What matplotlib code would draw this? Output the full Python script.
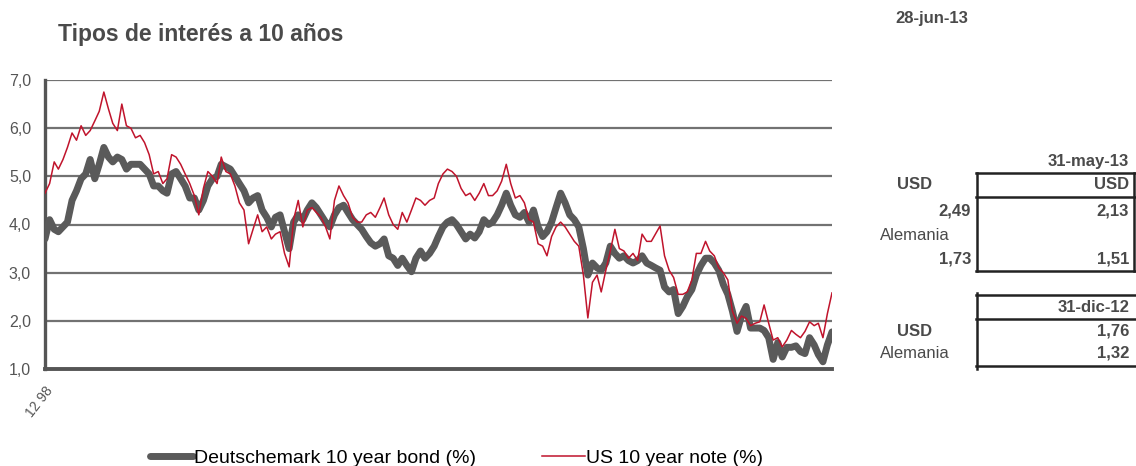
import numpy as np
import pandas as pd
import matplotlib
matplotlib.use("Agg")
import matplotlib.pyplot as plt
from matplotlib.lines import Line2D

plt.rcParams['font.family'] = ['Liberation Sans', 'DejaVu Sans']

# ---------- DATA (monthly, dic-98 .. jun-13) ----------
months = pd.date_range("1998-12-01", "2013-06-01", freq="MS")

us_10y = [
    4.65,
    4.85, 5.30, 5.15, 5.35, 5.60, 5.90, 5.75, 6.05, 5.85, 5.95, 6.15, 6.35,   # 1999
    6.75, 6.40, 6.10, 5.95, 6.50, 6.05, 6.00, 5.80, 5.85, 5.70, 5.45, 5.05,   # 2000
    5.10, 4.85, 4.95, 5.45, 5.40, 5.25, 5.05, 4.85, 4.60, 4.20, 4.75, 5.10,   # 2001
    5.00, 4.85, 5.40, 5.10, 5.05, 4.80, 4.45, 4.30, 3.60, 3.90, 4.20, 3.85,   # 2002
    3.95, 3.70, 3.80, 3.85, 3.40, 3.12, 4.10, 4.50, 3.95, 4.30, 4.35, 4.25,   # 2003
    4.15, 3.95, 3.70, 4.50, 4.80, 4.60, 4.45, 4.15, 4.05, 4.05, 4.20, 4.25,   # 2004
    4.15, 4.35, 4.55, 4.20, 4.00, 3.90, 4.25, 4.05, 4.30, 4.55, 4.50, 4.40,   # 2005
    4.50, 4.55, 4.85, 5.05, 5.15, 5.10, 5.00, 4.75, 4.60, 4.65, 4.50, 4.65,   # 2006
    4.85, 4.60, 4.60, 4.70, 4.90, 5.25, 4.85, 4.55, 4.60, 4.45, 4.10, 4.05,   # 2007
    3.60, 3.55, 3.35, 3.75, 3.95, 4.05, 3.95, 3.80, 3.65, 3.55, 2.95, 2.06,   # 2008
    2.80, 2.95, 2.60, 3.05, 3.45, 3.90, 3.50, 3.45, 3.30, 3.40, 3.25, 3.80,   # 2009
    3.65, 3.65, 3.80, 3.97, 3.35, 3.05, 2.90, 2.55, 2.55, 2.60, 2.85, 3.40,   # 2010
    3.40, 3.65, 3.45, 3.35, 3.10, 3.00, 2.85, 2.20, 1.95, 2.10, 2.05, 1.90,   # 2011
    1.95, 1.98, 2.33, 1.95, 1.60, 1.65, 1.46, 1.60, 1.80, 1.72, 1.65, 1.78,   # 2012
    1.98, 1.90, 1.95, 1.65, 2.15, 2.58,                                       # 2013
]

de_10y = [
    3.70,
    4.10, 3.90, 3.85, 3.95, 4.05, 4.50, 4.70, 4.95, 5.05, 5.35, 4.95, 5.25,   # 1999
    5.60, 5.40, 5.30, 5.40, 5.35, 5.15, 5.25, 5.25, 5.25, 5.15, 5.05, 4.80,   # 2000
    4.80, 4.70, 4.65, 5.05, 5.10, 4.95, 4.80, 4.55, 4.55, 4.30, 4.50, 4.80,   # 2001
    4.95, 5.00, 5.25, 5.20, 5.15, 5.00, 4.85, 4.70, 4.45, 4.55, 4.60, 4.30,   # 2002
    4.15, 3.95, 4.15, 4.20, 3.85, 3.50, 4.05, 4.20, 4.10, 4.30, 4.45, 4.35,   # 2003
    4.20, 4.05, 3.95, 4.20, 4.35, 4.40, 4.25, 4.10, 4.00, 3.90, 3.75, 3.62,   # 2004
    3.55, 3.60, 3.70, 3.35, 3.30, 3.15, 3.30, 3.15, 3.02, 3.30, 3.45, 3.30,   # 2005
    3.40, 3.55, 3.75, 3.95, 4.05, 4.10, 4.00, 3.85, 3.70, 3.80, 3.72, 3.85,   # 2006
    4.10, 4.00, 4.05, 4.20, 4.40, 4.65, 4.40, 4.20, 4.15, 4.25, 4.05, 4.30,   # 2007
    3.95, 3.75, 3.85, 4.05, 4.35, 4.65, 4.45, 4.20, 4.10, 3.95, 3.50, 2.95,   # 2008
    3.20, 3.10, 3.05, 3.20, 3.55, 3.40, 3.30, 3.35, 3.25, 3.20, 3.25, 3.35,   # 2009
    3.20, 3.15, 3.10, 3.05, 2.70, 2.60, 2.65, 2.15, 2.30, 2.50, 2.65, 2.95,   # 2010
    3.15, 3.30, 3.30, 3.20, 3.05, 2.75, 2.55, 2.20, 1.78, 2.10, 2.30, 1.85,   # 2011
    1.85, 1.85, 1.80, 1.65, 1.20, 1.55, 1.25, 1.45, 1.45, 1.48, 1.36, 1.32,   # 2012
    1.65, 1.50, 1.30, 1.15, 1.50, 1.77,                                       # 2013
]

y_ticks = [1, 2, 3, 4, 5, 6, 7]
y_ticklabels = ["1,0", "2,0", "3,0", "4,0", "5,0", "6,0", "7,0"]

# side table
date_top = "28-jun-13"
date_may = "31-may-13"
date_dec = "31-dic-12"
rows = ["USD", "Alemania"]
now_vals = ["2,49", "1,73"]
may_vals = ["2,13", "1,51"]
dec_vals = ["1,76", "1,32"]

GRAY = "#5a5a5a"
RED = "#c0142c"
TXT = "#4a4a4a"

W, H = 1136, 466


def fx(px):
    return px / W


def fy(py):
    return 1 - py / H


fig = plt.figure(figsize=(W / 100, H / 100), dpi=100)
ax = fig.add_axes([fx(45), fy(369), fx(832) - fx(45), fy(80) - fy(369)])

ax.plot(months, de_10y, color=GRAY, lw=5, solid_capstyle="round",
        solid_joinstyle="round", label="Deutschemark 10 year bond (%)", zorder=3)
ax.plot(months, us_10y, color=RED, lw=1.1, label="US 10 year note (%)", zorder=4)

ax.set_ylim(1, 7)
ax.set_xlim(months[0], months[-1])
ax.set_yticks(y_ticks)
ax.set_yticklabels(y_ticklabels)
ax.yaxis.grid(True, color="#727272", lw=1.6)
ax.set_axisbelow(True)
ax.tick_params(axis="y", length=0, pad=26, labelsize=11.5, labelcolor="#555555")
for lab in ax.get_yticklabels():
    lab.set_horizontalalignment("left")

ax.set_xticks([months[0]])
ax.set_xticklabels(["12 98"], rotation=52, ha="right", va="top",
                   rotation_mode="anchor", fontsize=10, color="#555555")
ax.tick_params(axis="x", length=0, pad=11)

for side in ["top", "right"]:
    ax.spines[side].set_visible(False)
ax.spines["left"].set_color("#555555")
ax.spines["left"].set_linewidth(2.4)
ax.spines["bottom"].set_color("#555555")
ax.spines["bottom"].set_linewidth(2.8)

# title + date
fig.text(fx(58), fy(34), "Tipos de interés a 10 años", fontsize=16.5,
         fontweight="bold", color=TXT, va="center", ha="left")
fig.text(fx(895), fy(18), date_top, fontsize=12, fontweight="bold",
         color=TXT, va="center", ha="left")

# legend
fig.legend(loc="center left", bbox_to_anchor=(fx(150), fy(458)), ncol=2,
           frameon=False, fontsize=14, handlelength=2.2, handletextpad=0.05,
           columnspacing=3.4, borderpad=0, borderaxespad=0)


# side table
def hline(x0, x1, y, lw=1.8):
    fig.add_artist(Line2D([fx(x0), fx(x1)], [fy(y), fy(y)], color="#222222", lw=lw))


def vline(x, y0, y1, lw=1.8):
    fig.add_artist(Line2D([fx(x), fx(x)], [fy(y0), fy(y1)], color="#222222", lw=lw))


TS = 12
fig.text(fx(1129), fy(162), date_may, fontsize=TS, fontweight="bold",
         color=TXT, ha="right", va="center")
hline(976, 1135, 173)
hline(976, 1135, 197)
hline(976, 1135, 271)
vline(977, 173, 271)
vline(1134, 173, 271)
fig.text(fx(915), fy(185), rows[0], fontsize=TS, fontweight="bold",
         color=TXT, ha="center", va="center")
fig.text(fx(1129), fy(185), rows[0], fontsize=TS, fontweight="bold",
         color=TXT, ha="right", va="center")
fig.text(fx(971), fy(211), now_vals[0], fontsize=TS, fontweight="bold",
         color=TXT, ha="right", va="center")
fig.text(fx(1129), fy(211), may_vals[0], fontsize=TS, fontweight="bold",
         color=TXT, ha="right", va="center")
fig.text(fx(915), fy(235), rows[1], fontsize=TS, color=TXT, ha="center", va="center")
fig.text(fx(971), fy(259), now_vals[1], fontsize=TS, fontweight="bold",
         color=TXT, ha="right", va="center")
fig.text(fx(1129), fy(259), may_vals[1], fontsize=TS, fontweight="bold",
         color=TXT, ha="right", va="center")

hline(976, 1135, 295)
hline(976, 1135, 319)
hline(976, 1135, 366)
vline(977, 293, 369)
fig.text(fx(1129), fy(307), date_dec, fontsize=TS, fontweight="bold",
         color=TXT, ha="right", va="center")
fig.text(fx(915), fy(331), rows[0], fontsize=TS, fontweight="bold",
         color=TXT, ha="center", va="center")
fig.text(fx(1129), fy(331), dec_vals[0], fontsize=TS, fontweight="bold",
         color=TXT, ha="right", va="center")
fig.text(fx(915), fy(353), rows[1], fontsize=TS, color=TXT, ha="center", va="center")
fig.text(fx(1129), fy(353), dec_vals[1], fontsize=TS, fontweight="bold",
         color=TXT, ha="right", va="center")

fig.savefig("out.png", dpi=100)
